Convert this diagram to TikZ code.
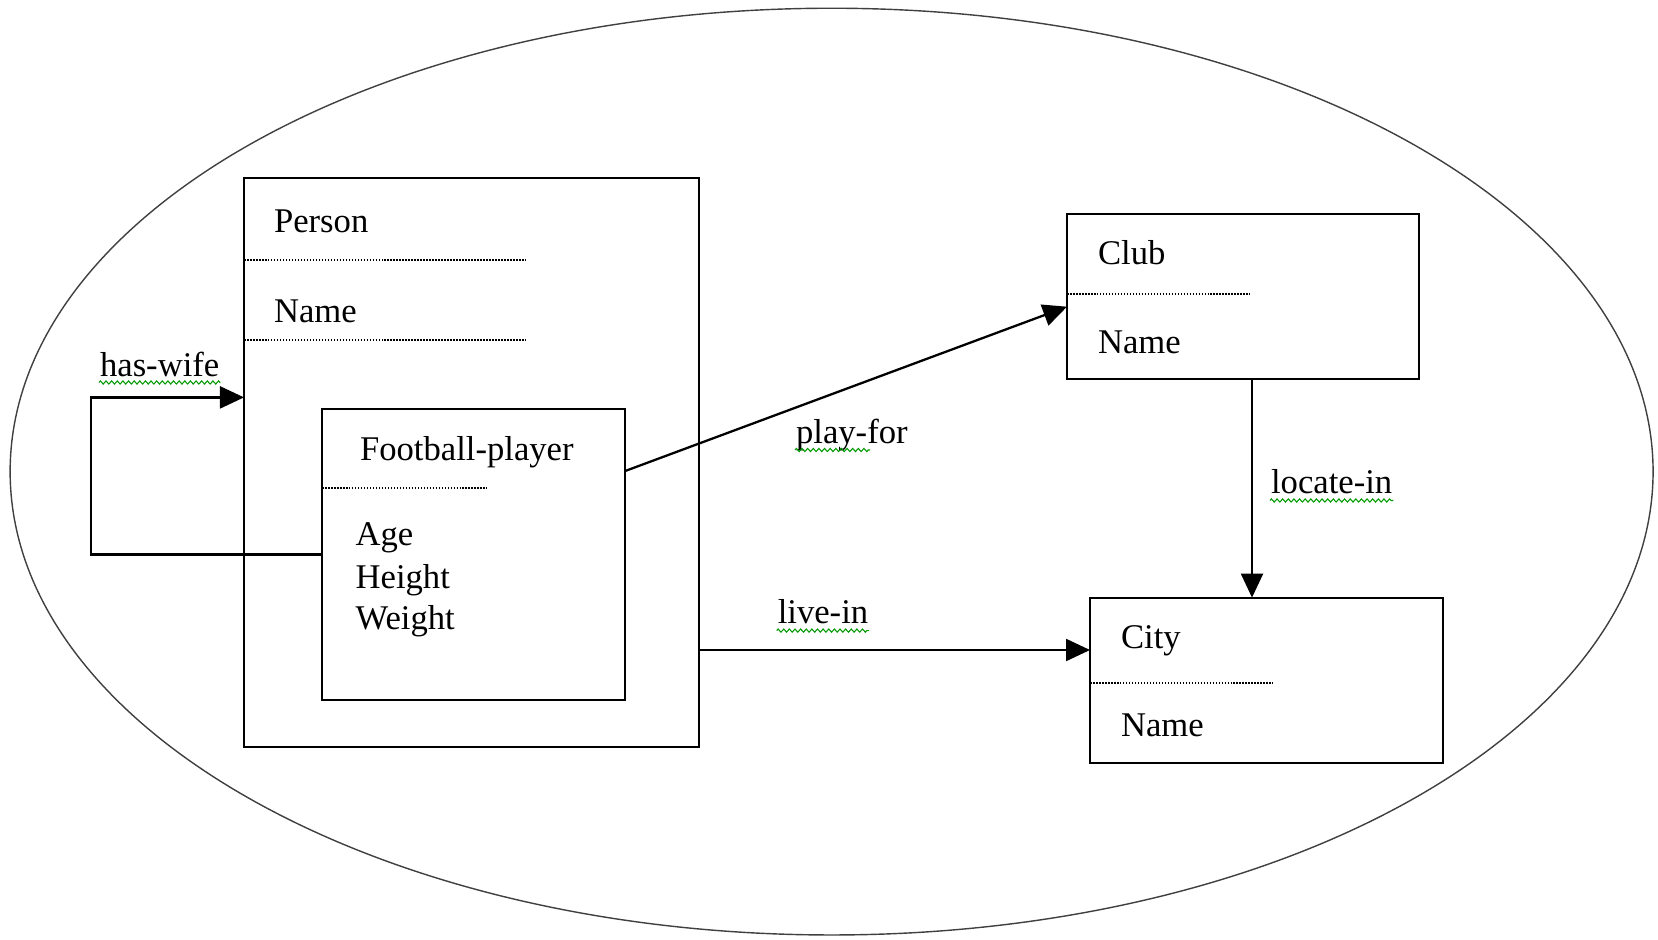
\documentclass[tikz,border=0pt]{standalone}
\usepackage{fontspec}
\setmainfont{Liberation Serif}
\usepackage{tikz}
\usetikzlibrary{arrows.meta}
\usetikzlibrary{calc}
\usetikzlibrary{decorations.pathmorphing}

\begin{document}
\begin{tikzpicture}[x=0.01cm, y=-0.01cm, >={Triangle[length=2.4mm,width=2.2mm]}, line width=0.6pt]
      \tikzstyle{line} = [draw=black, line width=0.65pt, ->]
      \tikzstyle{class box} = [rectangle, draw, anchor=north west, inner sep=0pt, outer sep=0pt]
      \tikzstyle{entry} = [anchor=base west, inner sep=0pt, font=\fontsize{9.85}{12}\selectfont]
      \tikzstyle{sep} = [line width=0.6pt, dash pattern=on 0.45pt off 0.4pt]
      \tikzstyle{squiggle} = [draw=green!60!black, line width=0.3pt, decorate,
         decoration={zigzag, amplitude=0.45pt, segment length=1.6pt}]
      \useasboundingbox (0,0) rectangle (1658,940);
      \draw[line width=0.4pt, draw=black!75] (831.6,471.6) ellipse [x radius=8.21cm, y radius=4.631cm];
      %nodes
      \node[class box, minimum width=4.55cm, minimum height=5.686cm] (person) at (244,178.4) {};
      \node[class box, minimum width=3.03cm, minimum height=2.91cm]  (player) at (322,409) {};
      \node[class box, minimum width=3.516cm, minimum height=1.65cm] (club)   at (1067,213.7) {};
      \node[class box, minimum width=3.525cm, minimum height=1.654cm] (city)  at (1090,597.6) {};

      \node[entry] (persontitle) at (273,233)    {Person};
      \node[entry] (personname)  at (273,323)    {Name};
      \node[entry] (playertitle) at (359,460.8)  {Football-player};
      \node[entry] (age)         at (354.6,545)  {Age};
      \node[entry] (height)      at (354.6,588)  {Height};
      \node[entry] (weight)      at (354.6,629)  {Weight};
      \node[entry] (clubtitle)   at (1097,264.6) {Club};
      \node[entry] (clubname)    at (1097,353.8) {Name};
      \node[entry] (citytitle)   at (1120,648)   {City};
      \node[entry] (cityname)    at (1120,736.5) {Name};

      %separators
      \draw[sep] ($(person.north west)+(0,81.6)$)  -- ++(281.6,0);
      \draw[sep] ($(person.north west)+(0,161.6)$) -- ++(281.6,0);
      \draw[sep] ($(player.north west)+(0,78.6)$)  -- ++(165,0);
      \draw[sep] ($(club.north west)+(0,80.3)$)    -- ++(182.6,0);
      \draw[sep] ($(city.north west)+(0,85)$)      -- ++(182.6,0);

      %lines
      \draw[line] (player.west) -- ++(-231,0) |- ($(person.north west)+(0,219)$);
      \draw[line] ($(player.north east)+(0,62)$) -- ($(club.north west)+(0,93)$);
      \draw[line] ($(club.south west)+(185,0)$) coordinate (lc) -- (lc |- city.north);
      \draw[line] ($(person.north east)+(0,471.6)$) coordinate (lv) -- (lv -| city.west);

      %labels
      \node[entry] (haswife)  at (99,376.5)    {has-wife};
      \node[entry] (playfor)  at (795,443.7)   {play-for};
      \node[entry] (locatein) at (1270,493.5)  {locate-in};
      \node[entry] (livein)   at (776.7,623.6) {live-in};
      \draw[squiggle] ($(haswife.base west)+(0,6)$)  -- ($(haswife.base east)+(0,6)$);
      \draw[squiggle] ($(playfor.base west)+(0,6.3)$) -- ($(playfor.base west)+(75,6.3)$);
      \draw[squiggle] ($(locatein.base west)+(0,7)$) -- ($(locatein.base east)+(0,7)$);
      \draw[squiggle] ($(livein.base west)+(0,7)$)   -- ($(livein.base east)+(0,7)$);
\end{tikzpicture}
\end{document}
